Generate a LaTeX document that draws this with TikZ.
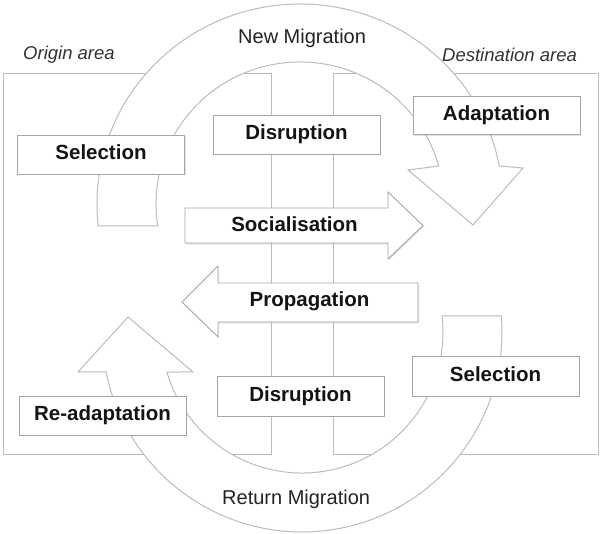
\documentclass[tikz,border=0pt]{standalone}
\usepackage{fontspec}
\setmainfont{Liberation Sans}
\usetikzlibrary{calc,shadows}
\definecolor{linegray}{RGB}{188,188,188}
\definecolor{boxgray}{RGB}{165,165,165}
\definecolor{txtcol}{RGB}{20,20,20}
\definecolor{migcol}{RGB}{35,35,35}
\definecolor{areacol}{RGB}{50,50,50}
\begin{document}
\begin{tikzpicture}[x=1pt,y=1pt,
  area/.style={draw=linegray, line width=1pt},
  band/.style={draw=linegray, fill=white, line width=1pt, line join=miter},
  shad/.style={drop shadow={shadow xshift=1pt, shadow yshift=-1.3pt, opacity=0.22}},
  lbl/.style={draw=boxgray, fill=white, line width=0.9pt, shad,
    minimum width=167pt, minimum height=39pt, inner sep=0pt,
    text height=15pt, text depth=4pt,
    font=\fontsize{20.5}{24}\selectfont\bfseries, text=txtcol},
  blockarrow/.style={draw=boxgray, fill=white, line width=0.9pt, line join=miter, shad},
  btxt/.style={font=\fontsize{20.5}{24}\selectfont\bfseries, text=txtcol, inner sep=0pt, anchor=base},
  mig/.style={font=\fontsize{20}{24}\selectfont, text=migcol, inner sep=0pt, anchor=base west},
  areatxt/.style={font=\fontsize{18.5}{22}\selectfont\itshape, text=areacol, inner sep=0pt, anchor=base west}]

\useasboundingbox (0,0) rectangle (600,534);

% origin and destination areas
\draw[area] (3,79) rectangle (271,460);
\draw[area] (333,79) rectangle (598,460);

% New Migration band arrow
\coordinate (C1) at (300,330);
\draw[band] ($(C1)+(186.3:203 and 200)$)
  arc[start angle=186.3, end angle=10.95, x radius=203, y radius=200]
  -- (523,366) -- (473,309) -- (408,364)
  -- ($(C1)+(15.5:144 and 142)$)
  arc[start angle=15.5, end angle=188.9, x radius=144, y radius=142] -- cycle;

% Return Migration band arrow
\coordinate (C2) at (302,202);
\draw[band] ($(C2)+(4.59:200)$)
  arc[start angle=4.59, end angle=-168.46, radius=200]
  -- (78,162) -- (128,217) -- (193,162)
  -- ($(C2)+(-163.51:141)$)
  arc[start angle=-163.51, end angle=6.52, radius=141] -- cycle;

% Socialisation block arrow
\draw[blockarrow] (185,291) -- (388,291) -- (388,275) -- (423,308.5)
  -- (388,342) -- (388,326) -- (185,326) -- cycle;
\node[btxt] (soc) at (294.5,302) {Socialisation};

% Propagation block arrow
\draw[blockarrow] (418,251) -- (218,251) -- (218,268) -- (182,232)
  -- (218,197) -- (218,212) -- (418,212) -- cycle;
\node[btxt] (prop) at (309.5,227) {Propagation};

% label boxes
\node[lbl] (sel1) at (101,379.5) {Selection};
\node[lbl] (dis1) at (296.5,399.5) {Disruption};
\node[lbl, minimum height=38pt] (adapt) at (496.5,418.5) {Adaptation};
\node[lbl] (readapt) at (102.5,118.5) {Re-adaptation};
\node[lbl, minimum height=40pt] (dis2) at (300.5,138) {Disruption};
\node[lbl, minimum height=40pt] (sel2) at (495.5,158) {Selection};

% titles
\node[areatxt] (orig) at (23,474) {Origin area};
\node[areatxt] (dest) at (442,472) {Destination area};
\node[mig] (newmig) at (238,490) {New Migration};
\node[mig] (retmig) at (222,29) {Return Migration};
\end{tikzpicture}
\end{document}
